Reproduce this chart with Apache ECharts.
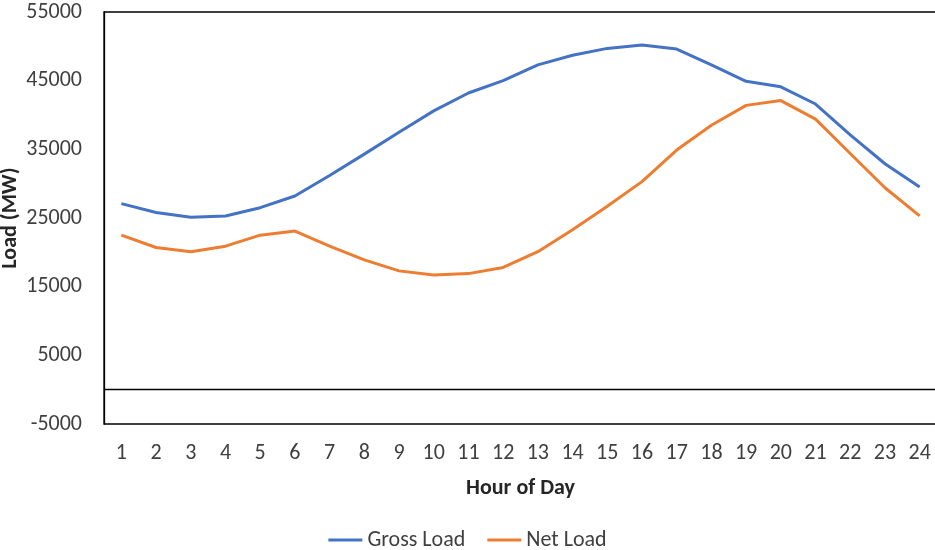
<!DOCTYPE html>
<html>
<head>
<meta charset="utf-8">
<script src="https://cdn.jsdelivr.net/npm/echarts@6/dist/echarts.min.js"></script>
<style>html,body{margin:0;padding:0;background:#fff;}#c{width:935px;height:550px;}</style>
</head>
<body>
<div id="c"></div>
<script>
const hours = ['1','2','3','4','5','6','7','8','9','10','11','12','13','14','15','16','17','18','19','20','21','22','23','24'];
const grossLoad = [27100, 25800, 25100, 25300, 26500, 28200, 31200, 34300, 37500, 40600, 43200, 45000, 47300, 48700, 49700, 50200, 49600, 47300, 44900, 44100, 41600, 37100, 32900, 29500];
const netLoad = [22500, 20700, 20100, 20900, 22500, 23100, 20900, 18900, 17300, 16700, 16900, 17800, 20100, 23300, 26700, 30300, 34900, 38500, 41400, 42100, 39400, 34400, 29400, 25300];
const yMin = -5000, yMax = 55000, yStep = 5000;

const FONT = "Carlito, 'Open Sans', sans-serif";
const chart = echarts.init(document.getElementById('c'), null, {renderer: 'canvas'});
chart.setOption({
  animation: false,
  backgroundColor: '#fff',
  grid: {left: 104, top: 12, width: 833, height: 412, show: true, borderColor: '#000', borderWidth: 1.3,
         backgroundColor: 'transparent', containLabel: false, outerBoundsMode: 'none'},
  legend: {
    top: 524, left: 'center', icon: 'rect', itemWidth: 34, itemHeight: 3, itemGap: 22, itemTextGap: 3,
    textStyle: {fontFamily: FONT, fontSize: 22, color: '#404040'},
    data: ['Gross Load', 'Net Load']
  },
  xAxis: {
    type: 'category', data: hours, boundaryGap: true,
    axisLine: {show: false, onZero: false}, axisTick: {show: false},
    axisLabel: {fontFamily: FONT, fontSize: 22, color: '#404040', margin: 18},
    name: 'Hour of Day', nameLocation: 'middle', nameGap: 53, nameMoveOverlap: false,
    nameTextStyle: {fontFamily: FONT, fontSize: 22, fontWeight: 'bold', color: '#262626'}
  },
  yAxis: {
    type: 'value', min: yMin, max: yMax, interval: yStep,
    axisLine: {show: true, lineStyle: {color: '#000', width: 1.3}}, axisTick: {show: false},
    splitLine: {show: false},
    axisLabel: {
      fontFamily: FONT, fontSize: 22, color: '#404040', margin: 22,
      formatter: v => (Math.abs(Math.round(v / yStep)) % 2 === 1 ? String(v) : '')
    },
    name: 'Load (MW)', nameLocation: 'middle', nameGap: 83, nameRotate: 90, nameMoveOverlap: false,
    nameTextStyle: {fontFamily: FONT, fontSize: 22, fontWeight: 'bold', color: '#262626'}
  },
  series: [
    {name: 'Gross Load', type: 'line', data: grossLoad, symbol: 'none', smooth: false,
     lineStyle: {color: '#4472C4', width: 3}, itemStyle: {color: '#4472C4'},
     markLine: {silent: true, symbol: 'none', label: {show: false}, lineStyle: {color: '#000', width: 1.3, type: 'solid'}, data: [{yAxis: 0}], animation: false}},
    {name: 'Net Load', type: 'line', data: netLoad, symbol: 'none', smooth: false,
     lineStyle: {color: '#ED7D31', width: 3}, itemStyle: {color: '#ED7D31'}}
  ]
});
</script>
</body>
</html>
